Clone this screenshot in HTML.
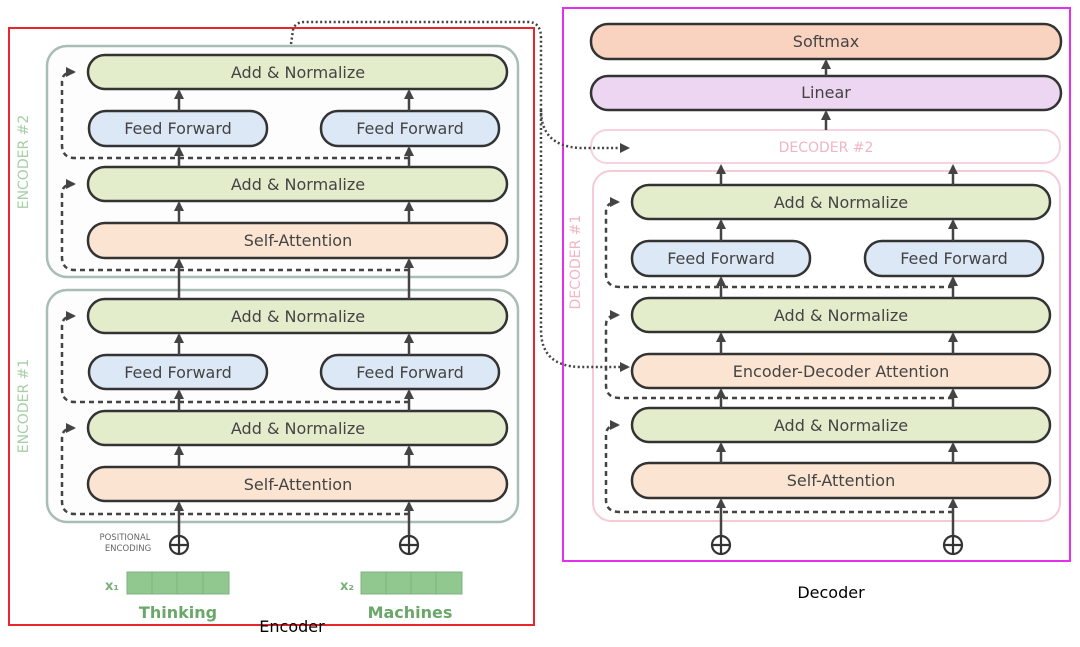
<!DOCTYPE html>
<html><head><meta charset="utf-8"><style>
html,body{margin:0;padding:0;background:#fff;}
svg{display:block;}
text{font-family:"DejaVu Sans","Liberation Sans",sans-serif;}
</style></head><body>
<svg width="1080" height="647" viewBox="0 0 1080 647" xmlns="http://www.w3.org/2000/svg">
<defs>
<marker id="a" markerWidth="10" markerHeight="10" refX="8" refY="5" orient="auto" markerUnits="userSpaceOnUse"><path d="M0,0 L10,5 L0,10 Z" fill="#444"/></marker>
</defs>
<g font-size="16" fill="#444" text-anchor="middle">
<rect x="9" y="28" width="525" height="597" fill="none" stroke="#e8262b" stroke-width="2"/>
<rect x="47" y="46" width="471" height="231" rx="20" fill="#fcfdfc" stroke="#a9bcb8" stroke-width="2.5"/>
<rect x="47" y="290" width="471" height="232" rx="20" fill="#fcfdfc" stroke="#a9bcb8" stroke-width="2.5"/>
<text x="28" y="162" transform="rotate(-90 28 162)" fill="#a6cfa6" font-size="14">ENCODER #2</text>
<text x="28" y="406" transform="rotate(-90 28 406)" fill="#a6cfa6" font-size="14">ENCODER #1</text>

<g stroke="#333" stroke-width="2.5">
<rect x="88" y="55" width="419" height="34" rx="17" fill="#e3edcc"/>
<rect x="89" y="111" width="178" height="35" rx="17" fill="#dce8f6"/>
<rect x="321" y="111" width="178" height="35" rx="17" fill="#dce8f6"/>
<rect x="88" y="167" width="419" height="34" rx="17" fill="#e3edcc"/>
<rect x="88" y="223" width="419" height="35" rx="17" fill="#fbe5d2"/>
<rect x="88" y="299" width="419" height="34" rx="17" fill="#e3edcc"/>
<rect x="89" y="355" width="178" height="34" rx="17" fill="#dce8f6"/>
<rect x="321" y="355" width="178" height="34" rx="17" fill="#dce8f6"/>
<rect x="88" y="411" width="419" height="34" rx="17" fill="#e3edcc"/>
<rect x="88" y="467" width="419" height="34" rx="17" fill="#fbe5d2"/>
</g>
<text x="298" y="78">Add &amp; Normalize</text>
<text x="178" y="134">Feed Forward</text>
<text x="410" y="134">Feed Forward</text>
<text x="298" y="190">Add &amp; Normalize</text>
<text x="298" y="246">Self-Attention</text>
<text x="298" y="322">Add &amp; Normalize</text>
<text x="178" y="378">Feed Forward</text>
<text x="410" y="378">Feed Forward</text>
<text x="298" y="434">Add &amp; Normalize</text>
<text x="298" y="490">Self-Attention</text>

<g stroke="#444" stroke-width="2.5" fill="none" stroke-dasharray="5,4">
<path d="M409 158 H75 Q62 158 62 145 V82 Q62 72 74 72" marker-end="url(#a)"/>
<path d="M409 270 H75 Q62 270 62 257 V194 Q62 184 74 184" marker-end="url(#a)"/>
<path d="M409 402 H75 Q62 402 62 389 V326 Q62 316 74 316" marker-end="url(#a)"/>
<path d="M409 514 H75 Q62 514 62 501 V438 Q62 428 74 428" marker-end="url(#a)"/>
</g>
<g stroke="#444" stroke-width="2.5" fill="none" marker-end="url(#a)">
<path d="M179 111 V91"/><path d="M409 111 V91"/>
<path d="M179 167 V148"/><path d="M409 167 V148"/>
<path d="M179 223 V203"/><path d="M409 223 V203"/>
<path d="M179 299 V260"/><path d="M409 299 V260"/>
<path d="M179 355 V335"/><path d="M409 355 V335"/>
<path d="M179 411 V391"/><path d="M409 411 V391"/>
<path d="M179 467 V447"/><path d="M409 467 V447"/>
<path d="M179 535 V503"/><path d="M409 535 V503"/>
</g>
<g stroke="#333" stroke-width="2.2" fill="#fff">
<circle cx="179" cy="545" r="9"/><circle cx="409" cy="545" r="9"/>
</g>
<path d="M179 537 V553 M171 545 H187 M409 537 V553 M401 545 H417" stroke="#333" stroke-width="2.2"/>
<text x="125" y="540" font-size="8.5" fill="#666">POSITIONAL</text>
<text x="128" y="551" font-size="8.5" fill="#666">ENCODING</text>
<g fill="#90c890" stroke="#7fb07f" stroke-width="1">
<rect x="127" y="572" width="25" height="22"/><rect x="152" y="572" width="25" height="22"/><rect x="177" y="572" width="26" height="22"/><rect x="203" y="572" width="26" height="22"/>
<rect x="361" y="572" width="25" height="22"/><rect x="386" y="572" width="25" height="22"/><rect x="411" y="572" width="25" height="22"/><rect x="436" y="572" width="26" height="22"/>
</g>
<text x="112" y="590" font-size="13" fill="#7ab07a" font-weight="bold">x₁</text>
<text x="347" y="590" font-size="13" fill="#7ab07a" font-weight="bold">x₂</text>
<text x="178" y="618" font-size="16" fill="#6aa86a" font-weight="bold">Thinking</text>
<text x="410" y="618" font-size="16" fill="#6aa86a" font-weight="bold">Machines</text>
<text x="292" y="632" font-size="16" fill="#000" font-family="Liberation Sans">Encoder</text>

<rect x="563" y="8" width="507" height="553" fill="none" stroke="#e62ef0" stroke-width="2"/>
<rect x="591" y="24" width="470" height="35" rx="17" fill="#fad3c0" stroke="#333" stroke-width="2.5"/>
<rect x="591" y="76" width="470" height="34" rx="17" fill="#ecd6f1" stroke="#333" stroke-width="2.5"/>
<text x="826" y="47">Softmax</text>
<text x="826" y="98">Linear</text>
<rect x="591" y="130" width="469" height="33" rx="16" fill="#fff" stroke="#f6d2dc" stroke-width="2"/>
<text x="826" y="152" fill="#f0b6c4" font-size="14">DECODER #2</text>
<rect x="593" y="171" width="467" height="350" rx="18" fill="#fff" stroke="#f6cbd6" stroke-width="2"/>
<text x="580" y="262" transform="rotate(-90 580 262)" fill="#f0b6c4" font-size="14">DECODER #1</text>
<g stroke="#333" stroke-width="2.5">
<rect x="632" y="185" width="418" height="34" rx="17" fill="#e3edcc"/>
<rect x="632" y="241" width="178" height="35" rx="17" fill="#dce8f6"/>
<rect x="865" y="241" width="178" height="35" rx="17" fill="#dce8f6"/>
<rect x="632" y="298" width="418" height="34" rx="17" fill="#e3edcc"/>
<rect x="632" y="354" width="418" height="34" rx="17" fill="#fbe5d2"/>
<rect x="632" y="408" width="418" height="34" rx="17" fill="#e3edcc"/>
<rect x="632" y="463" width="418" height="35" rx="17" fill="#fbe5d2"/>
</g>
<text x="841" y="208">Add &amp; Normalize</text>
<text x="721" y="264">Feed Forward</text>
<text x="954" y="264">Feed Forward</text>
<text x="841" y="321">Add &amp; Normalize</text>
<text x="841" y="377">Encoder-Decoder Attention</text>
<text x="841" y="431">Add &amp; Normalize</text>
<text x="841" y="486">Self-Attention</text>
<g stroke="#444" stroke-width="2.5" fill="none" stroke-dasharray="5,4">
<path d="M953 287 H620 Q606 287 606 274 V212 Q606 202 618 202" marker-end="url(#a)"/>
<path d="M953 398 H620 Q606 398 606 385 V325 Q606 315 618 315" marker-end="url(#a)"/>
<path d="M953 512 H620 Q606 512 606 500 V435 Q606 425 618 425" marker-end="url(#a)"/>
</g>
<g stroke="#444" stroke-width="2.5" fill="none" marker-end="url(#a)">
<path d="M826 76 V61"/><path d="M826 130 V112"/>
<path d="M721 185 V166"/><path d="M953 185 V166"/>
<path d="M721 241 V221"/><path d="M953 241 V221"/>
<path d="M721 298 V278"/><path d="M953 298 V278"/>
<path d="M721 354 V334"/><path d="M953 354 V334"/>
<path d="M721 408 V390"/><path d="M953 408 V390"/>
<path d="M721 463 V444"/><path d="M953 463 V444"/>
<path d="M721 535 V500"/><path d="M953 535 V500"/>
</g>
<g stroke="#333" stroke-width="2.2" fill="#fff">
<circle cx="721" cy="545" r="9"/><circle cx="953" cy="545" r="9"/>
</g>
<path d="M721 537 V553 M713 545 H729 M953 537 V553 M945 545 H961" stroke="#333" stroke-width="2.2"/>
<text x="831" y="598" font-size="16" fill="#000" font-family="Liberation Sans">Decoder</text>

<g stroke="#444" stroke-width="2.5" fill="none" stroke-dasharray="2,2.5">
<path d="M291 44 L293 30 Q295 22 305 22 H528 Q541 22 541 38 V110 Q541 146 580 148 H628" marker-end="url(#a)"/>
<path d="M541 110 V330 Q541 366 580 367 H628" marker-end="url(#a)"/>
</g>
</g>
</svg>
</body></html>
